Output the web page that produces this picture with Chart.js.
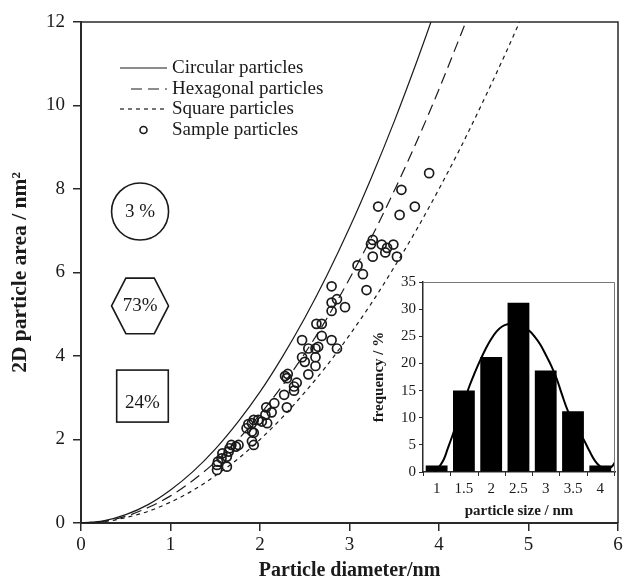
<!DOCTYPE html>
<html><head><meta charset="utf-8">
<script src="https://cdn.jsdelivr.net/npm/chart.js@4/dist/chart.umd.min.js"></script>
<style>
html,body{margin:0;padding:0;background:#fff;}
#wrap{position:relative;width:626px;height:581px;overflow:hidden;}
canvas{position:absolute;}
</style>
</head><body>
<div id="wrap">
<canvas id="main" width="626" height="581" style="left:0;top:0;width:626px;height:581px"></canvas>
<canvas id="inset" width="262" height="257" style="left:360px;top:268px;width:262px;height:257px"></canvas>
</div>
<script>
// ---------- main chart data ----------
const diamCircular  = [0,0.25,0.5,0.75,1,1.25,1.5,1.75,2,2.25,2.5,2.75,3,3.25,3.5,3.75,3.91];
const areaCircular  = [0,0.05,0.2,0.44,0.79,1.23,1.77,2.41,3.14,3.98,4.91,5.94,7.07,8.3,9.62,11.04,12.0];
const diamHexagonal = [0,0.25,0.5,0.75,1,1.25,1.5,1.75,2,2.25,2.5,2.75,3,3.25,3.5,3.75,4,4.25,4.3];
const areaHexagonal = [0,0.04,0.16,0.37,0.65,1.02,1.46,1.99,2.6,3.29,4.06,4.91,5.85,6.86,7.96,9.13,10.39,11.73,12.0];
const diamSquare    = [0,0.25,0.5,0.75,1,1.25,1.5,1.75,2,2.25,2.5,2.75,3,3.25,3.5,3.75,4,4.25,4.5,4.75,4.9];
const areaSquare    = [0,0.03,0.13,0.28,0.5,0.78,1.13,1.53,2,2.53,3.13,3.78,4.5,5.28,6.13,7.03,8,9.03,10.13,11.28,12.0];
const sampleDiameters = [2.80,2.80,2.86,2.80,2.95,2.63,2.69,2.69,2.47,2.80,2.86,2.54,2.62,2.65,2.47,2.50,2.62,2.62,2.54,2.28,2.30,2.31,2.41,2.38,2.38,2.27,2.30,2.16,2.13,2.07,2.06,2.08,2.02,1.98,1.93,1.91,1.87,1.85,1.91,1.93,1.91,1.93,1.76,1.73,1.68,1.66,1.65,1.58,1.63,1.57,1.53,1.52,1.52,1.63,3.89,3.58,3.73,3.32,3.56,3.26,3.24,3.36,3.42,3.40,3.49,3.53,3.26,3.09,3.15,3.19];
const sampleAreas     = [5.67,5.28,5.36,5.08,5.17,4.77,4.77,4.48,4.38,4.38,4.18,4.18,4.18,4.22,3.97,3.86,3.97,3.76,3.56,3.52,3.47,3.57,3.36,3.27,3.17,3.07,2.77,2.87,2.65,2.77,2.59,2.39,2.43,2.47,2.47,2.39,2.37,2.27,2.19,2.16,1.96,1.87,1.87,1.83,1.87,1.79,1.71,1.67,1.59,1.55,1.47,1.39,1.27,1.35,8.38,7.98,7.58,7.58,7.38,6.78,6.68,6.67,6.59,6.48,6.67,6.38,6.38,6.17,5.96,5.58];
const xTicksMain = [0,1,2,3,4,5,6];
const yTicksMain = [0,2,4,6,8,10,12];
const legendLabels = ['Circular particles','Hexagonal particles','Square particles','Sample particles'];
const shapeLabels = ['3 %','73%','24%'];

// ---------- inset data ----------
const sizeBins = [1,1.5,2,2.5,3,3.5,4];
const freqPct  = [1.2,15.0,21.2,31.2,18.7,11.2,1.2];
const fitX = [0.97,1.05,1.13,1.2,1.3,1.4,1.5,1.6,1.7,1.8,1.9,2.0,2.1,2.2,2.3,2.4,2.5,2.6,2.7,2.8,2.9,3.0,3.1,3.2,3.3,3.4,3.5,3.6,3.7,3.8,3.9,4.0,4.1,4.2,4.27];
const fitY = [0.1,1.0,2.3,4.2,7.0,10.0,12.9,15.8,18.3,20.6,22.7,24.5,25.9,26.8,27.2,27.2,26.9,26.4,26.0,24.9,23.5,21.6,19.6,17.2,14.2,11.4,9.4,7.6,5.9,3.9,2.1,1.0,0.6,0.9,1.8];
const yTicksInset = [0,5,10,15,20,25,30,35];

const FONT = '"Liberation Serif","Times New Roman",serif';
const INK = '#1a1a1a';
const AX = '#2a2a2a';

const pts = (xs, ys) => xs.map((x,i)=>({x, y: ys[i]}));

const mainDecor = {
  id:'mainDecor',
  afterDraw(chart){
    const {ctx, chartArea:a, scales:{x,y}} = chart;
    ctx.save();
    // frame top & right
    ctx.strokeStyle = AX; ctx.lineWidth = 1.5;
    ctx.beginPath();
    ctx.moveTo(a.left, a.top); ctx.lineTo(a.right, a.top); ctx.lineTo(a.right, a.bottom);
    ctx.stroke();
    // legend
    ctx.font = '19px ' + FONT; ctx.fillStyle = INK; ctx.textBaseline = 'middle'; ctx.textAlign='left';
    const lx0 = a.left + 39, lx1 = a.left + 86, tx = a.left + 91;
    const ly = [a.top + 46, a.top + 67, a.top + 87, a.top + 108];
    ctx.strokeStyle = INK; ctx.lineWidth = 1.2;
    const dashes = [[], [11,6], [4,4]];
    for (let i=0;i<3;i++){
      ctx.setLineDash(dashes[i]);
      ctx.beginPath();
      ctx.moveTo(i===1 ? lx0+11 : lx0, ly[i]); ctx.lineTo(lx1, ly[i]); ctx.stroke();
    }
    ctx.setLineDash([]);
    ctx.lineWidth = 1.6;
    ctx.beginPath(); ctx.arc((lx0+lx1)/2, ly[3], 3.5, 0, Math.PI*2); ctx.stroke();
    legendLabels.forEach((t,i)=>ctx.fillText(t, tx, ly[i]));
    // shapes
    ctx.lineWidth = 1.6; ctx.strokeStyle = INK; ctx.textAlign='center';
    const cx = x.getPixelForValue(0.66);
    // circle
    const cy1 = y.getPixelForValue(7.46);
    ctx.beginPath(); ctx.arc(cx, cy1, 28.5, 0, Math.PI*2); ctx.stroke();
    ctx.fillText(shapeLabels[0], cx, cy1);
    // hexagon
    const cy2 = y.getPixelForValue(5.2);
    const hw = 28.5, hh = 27.8, ew = 14.2;
    ctx.beginPath();
    ctx.moveTo(cx-hw, cy2); ctx.lineTo(cx-ew, cy2-hh); ctx.lineTo(cx+ew, cy2-hh);
    ctx.lineTo(cx+hw, cy2); ctx.lineTo(cx+ew, cy2+hh); ctx.lineTo(cx-ew, cy2+hh); ctx.closePath(); ctx.stroke();
    ctx.fillText(shapeLabels[1], cx, cy2);
    // square
    const cx3 = x.getPixelForValue(0.687), cy3 = y.getPixelForValue(3.04);
    ctx.strokeRect(cx3-25.8, cy3-26, 51.6, 52);
    ctx.fillText(shapeLabels[2], cx3, cy3+7);
    ctx.restore();
  }
};

new Chart(document.getElementById('main'), {
  type:'scatter',
  data:{datasets:[
    {type:'line', data:pts(diamCircular, areaCircular), borderColor:INK, borderWidth:1.2, pointRadius:0, cubicInterpolationMode:'monotone', fill:false},
    {type:'line', data:pts(diamHexagonal, areaHexagonal), borderColor:INK, borderWidth:1.2, borderDash:[11,6], pointRadius:0, cubicInterpolationMode:'monotone', fill:false},
    {type:'line', data:pts(diamSquare, areaSquare), borderColor:INK, borderWidth:1.2, borderDash:[4,4], pointRadius:0, cubicInterpolationMode:'monotone', fill:false},
    {type:'scatter', data:pts(sampleDiameters, sampleAreas), pointStyle:'circle', pointRadius:4.5, borderColor:INK, borderWidth:1.7, backgroundColor:'rgba(0,0,0,0)'}
  ]},
  options:{
    responsive:false, animation:false, devicePixelRatio:1,
    layout:{padding:{top:22,right:8,left:0,bottom:0}},
    plugins:{legend:{display:false}, tooltip:{enabled:false}},
    scales:{
      x:{type:'linear', min:0, max:6,
        afterBuildTicks(s){ s.ticks = xTicksMain.map(v=>({value:v})); },
        afterFit(s){ s.height = 58; },
        ticks:{font:{family:FONT,size:19}, color:INK, padding:3, maxRotation:0},
        grid:{drawOnChartArea:false, drawTicks:true, tickLength:8, color:AX, lineWidth:1.5},
        border:{color:AX, width:2},
        title:{display:true, text:'Particle diameter/nm', color:INK, font:{family:FONT,size:20,weight:'bold',lineHeight:1}, padding:{top:0,bottom:0}}
      },
      y:{type:'linear', min:0, max:12,
        afterBuildTicks(s){ s.ticks = yTicksMain.map(v=>({value:v})); },
        afterFit(s){ s.width = 81; },
        ticks:{font:{family:FONT,size:19}, color:INK, padding:8},
        grid:{drawOnChartArea:false, drawTicks:true, tickLength:8, color:AX, lineWidth:1.5},
        border:{color:AX, width:2},
        title:{display:true, text:'2D particle area / nm²', color:INK, font:{family:FONT,size:21.5,weight:'bold',lineHeight:1}, padding:{top:10,bottom:0}}
      }
    }
  },
  plugins:[mainDecor]
});

const insetDecor = {
  id:'insetDecor',
  afterDraw(chart){
    const {ctx, chartArea:a, scales:{x}} = chart;
    ctx.save();
    ctx.strokeStyle = '#777'; ctx.lineWidth = 1;
    ctx.beginPath(); ctx.moveTo(a.left, a.top+0.5); ctx.lineTo(a.right-0.5, a.top+0.5); ctx.lineTo(a.right-0.5, a.bottom); ctx.stroke();
    ctx.strokeStyle = AX; ctx.lineWidth = 1;
    const half = (sizeBins[1]-sizeBins[0])/2;
    const edges = sizeBins.map(v=>v-half).concat([sizeBins[sizeBins.length-1]+half]);
    edges.forEach(v=>{
      const px = Math.round(x.getPixelForValue(v))+0.5;
      ctx.beginPath(); ctx.moveTo(px, a.bottom); ctx.lineTo(px, a.bottom+4); ctx.stroke();
    });
    ctx.restore();
  }
};

new Chart(document.getElementById('inset'), {
  data:{datasets:[
    {type:'bar', data:pts(sizeBins, freqPct), backgroundColor:'#000', borderWidth:0, barPercentage:0.8, categoryPercentage:1, order:0},
    {type:'line', data:pts(fitX, fitY), borderColor:'#000', borderWidth:2, pointRadius:0, tension:0.4, fill:false, order:1}
  ]},
  options:{
    responsive:false, animation:false, devicePixelRatio:1,
    layout:{padding:{top:14,right:7,left:0,bottom:0}},
    plugins:{legend:{display:false}, tooltip:{enabled:false}},
    scales:{
      x:{type:'linear', min:0.75, max:4.27, offset:false,
        afterBuildTicks(s){ s.ticks = sizeBins.map(v=>({value:v})); },
        afterFit(s){ s.height = 53; },
        ticks:{font:{family:FONT,size:15}, color:INK, padding:8, maxRotation:0, callback:v=>String(v)},
        grid:{display:false, drawTicks:false},
        border:{color:AX, width:1.5},
        title:{display:true, text:'particle size / nm', color:INK, font:{family:FONT,size:15,weight:'bold',lineHeight:1}, padding:{top:0,bottom:6}}
      },
      y:{type:'linear', min:0, max:35,
        afterBuildTicks(s){ s.ticks = yTicksInset.map(v=>({value:v})); },
        afterFit(s){ s.width = 63; },
        ticks:{font:{family:FONT,size:15}, color:INK, padding:3},
        grid:{drawOnChartArea:false, drawTicks:true, tickLength:4, color:AX, lineWidth:1},
        border:{color:AX, width:1.5},
        title:{display:true, text:'frequency / %', color:INK, font:{family:FONT,size:15,weight:'bold',lineHeight:1}, padding:{top:12,bottom:0}}
      }
    }
  },
  plugins:[insetDecor]
});
</script>
</body></html>
